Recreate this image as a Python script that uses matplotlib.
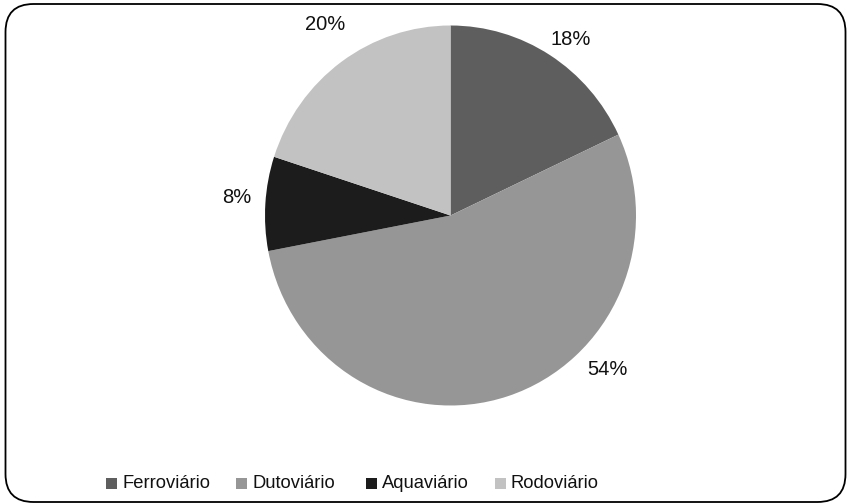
import matplotlib

matplotlib.use("Agg")
import matplotlib.pyplot as plt
from matplotlib.patches import FancyBboxPatch, Rectangle

# share of each transport mode
modes = ["Ferroviário", "Dutoviário", "Aquaviário", "Rodoviário"]
shares = [18, 54, 8, 20]
colors = ["#5e5e5e", "#969696", "#1c1c1c", "#c2c2c2"]

W, H = 847, 504
fig = plt.figure(figsize=(W / 100, H / 100), dpi=100)

# full-figure overlay in pixel units (y down) for frame and legend
bg = fig.add_axes([0, 0, 1, 1])
bg.set_xlim(0, W)
bg.set_ylim(H, 0)
bg.axis("off")
bg.add_patch(FancyBboxPatch((5.5, 4), 840, 498,
                            boxstyle="round,pad=0,rounding_size=28",
                            fill=False, edgecolor="black", linewidth=1.3))

# pie box in pixels
cx, cy, rx, ry = 450.5, 215.5, 185.5, 190
ax = fig.add_axes([(cx - rx) / W, 1 - (cy + ry) / H, 2 * rx / W, 2 * ry / H])
ax.pie(shares, colors=colors, startangle=90, counterclock=False,
       radius=1, wedgeprops=dict(linewidth=0))
ax.set_xlim(-1, 1)
ax.set_ylim(-1, 1)
ax.set_aspect("auto")
ax.axis("off")

# percentage labels, best-fit placement outside the pie (pixel offsets from centre)
label_off = [(120, 176), (157, -154), (-214, 18), (-125, 191)]
for v, (dx, dy) in zip(shares, label_off):
    ax.text(dx / rx, dy / ry, f"{v}%", ha="center", va="center", fontsize=14.5,
            family=["Liberation Sans", "DejaVu Sans"], color="#111111",
            clip_on=False)

# legend row along the bottom
legend_x = [106, 236, 366, 495]
for x, name, c in zip(legend_x, modes, colors):
    bg.add_patch(Rectangle((x, 477.5), 11, 11, facecolor=c, edgecolor="none"))
    bg.text(x + 16, 483.5, name, ha="left", va="center", fontsize=13.2,
            family=["Liberation Sans", "DejaVu Sans"], color="#111111")

fig.savefig("out.png", dpi=100)
